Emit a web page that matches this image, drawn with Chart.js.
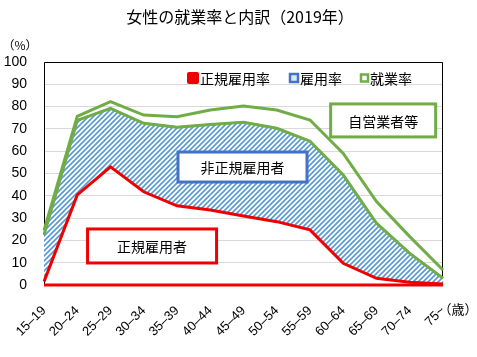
<!DOCTYPE html>
<html><head><meta charset="utf-8">
<script src="https://cdn.jsdelivr.net/npm/chart.js@4"></script>
<style>html,body{margin:0;padding:0;background:#fff}#wrap{width:477px;height:357px}</style>
</head><body><div id="wrap"><canvas id="c" width="477" height="357"></canvas></div>
<script>
const categories = ['15–19','20–24','25–29','30–34','35–39','40–44','45–49','50–54','55–59','60–64','65–69','70–74','75~'];
const regularRate = [1.5, 40.4, 53.0, 41.8, 35.5, 33.6, 30.9, 28.4, 24.7, 9.7, 3.0, 1.2, 0.5];
const employeeRate = [22.5, 73.8, 79.2, 72.5, 70.7, 72.0, 73.0, 70.3, 64.5, 49.3, 27.7, 14.2, 3.0];
const employmentRate = [24.5, 75.6, 82.2, 76.2, 75.5, 78.5, 80.3, 78.5, 74.0, 59.0, 37.4, 21.7, 6.7];
const yTicks = [0,10,20,30,40,50,60,70,80,90,100];
const seriesNames = ['正規雇用率','雇用率','就業率'];
const boxLabels = ['正規雇用者','非正規雇用者','自営業者等'];

const RED='#ee0000', BLUE='#4472c4', STRIPE='#5b9bd5', GREEN='#70ad47';
const JP = '"Noto Sans CJK JP", "Noto Sans", sans-serif';
const LAT = '"Liberation Sans", Arial, sans-serif';

function hatch(){
  const s=5, c=document.createElement('canvas'); c.width=s; c.height=s;
  const g=c.getContext('2d');
  g.fillStyle='#fff'; g.fillRect(0,0,s,s);
  g.strokeStyle=STRIPE; g.lineWidth=1.7; g.beginPath();
  g.moveTo(0,s); g.lineTo(s,0);
  g.moveTo(-1,1); g.lineTo(1,-1);
  g.moveTo(s-1,s+1); g.lineTo(s+1,s-1);
  g.stroke();
  return g.createPattern(c,'repeat');
}

const deco = {
  id:'deco',
  beforeDatasetsDraw(chart){
    const {ctx, chartArea:a} = chart;
    ctx.save(); ctx.strokeStyle='#000'; ctx.lineWidth=1;
    ctx.beginPath(); ctx.moveTo(a.left+0.5,a.bottom); ctx.lineTo(a.left+0.5,a.top+0.5); ctx.lineTo(a.right-0.5,a.top+0.5); ctx.lineTo(a.right-0.5,a.bottom); ctx.stroke();
    ctx.restore();
  },
  afterDatasetsDraw(chart){
    const {ctx, chartArea:a, scales:{x,y}} = chart;
    ctx.save();
    ctx.strokeStyle=RED; ctx.lineWidth=3;
    ctx.beginPath(); ctx.moveTo(a.left, y.getPixelForValue(0)); ctx.lineTo(a.right, y.getPixelForValue(0)); ctx.stroke();
    const boxes = [
      {t:boxLabels[0], cx:x.getPixelForValue(3.25), cy:y.getPixelForValue(17.5), w:129, h:34, c:RED},
      {t:boxLabels[1], cx:x.getPixelForValue(5.97), cy:y.getPixelForValue(52.9), w:129, h:30, c:BLUE},
      {t:boxLabels[2], cx:x.getPixelForValue(10.2), cy:y.getPixelForValue(73.8), w:105, h:33, c:GREEN}
    ];
    boxes.forEach(b=>{
      ctx.fillStyle='#fff'; ctx.fillRect(b.cx-b.w/2, b.cy-b.h/2, b.w, b.h);
      ctx.strokeStyle=b.c; ctx.lineWidth=3; ctx.strokeRect(b.cx-b.w/2, b.cy-b.h/2, b.w, b.h);
      ctx.fillStyle='#000'; ctx.font='14px '+JP; ctx.textAlign='center'; ctx.textBaseline='middle';
      ctx.fillText(b.t, b.cx, b.cy+1);
    });
    const ly = a.top + 16;
    const items = [
      {t:seriesNames[0], x:a.left+143, w:12, fill:RED, stroke:null},
      {t:seriesNames[1], x:a.left+245, w:10, fill:'#dbe6f7', stroke:BLUE},
      {t:seriesNames[2], x:a.left+316, w:9, fill:'#ffffff', stroke:GREEN}
    ];
    items.forEach(it=>{
      if(it.stroke){
        ctx.fillStyle=it.fill; ctx.fillRect(it.x, ly-it.w/2, it.w, it.w);
        ctx.strokeStyle=it.stroke; ctx.lineWidth=2.5; ctx.strokeRect(it.x+1, ly-it.w/2+1, it.w-2, it.w-2);
      } else {
        ctx.fillStyle=it.fill; ctx.beginPath(); ctx.roundRect(it.x, ly-it.w/2, it.w, it.w, 2); ctx.fill();
      }
      ctx.fillStyle='#000'; ctx.font='14px '+JP; ctx.textAlign='left'; ctx.textBaseline='middle';
      ctx.fillText(it.t, it.x+it.w+1, ly+1);
    });
    ctx.restore();
  },
  afterDraw(chart){
    const {ctx} = chart;
    ctx.save(); ctx.fillStyle='#000'; ctx.textBaseline='middle';
    ctx.font='16px '+JP; ctx.textAlign='center';
    ctx.fillText('女性の就業率と内訳（2019年）', 240, 17);
    ctx.font='12px '+JP; ctx.textAlign='center';
    ctx.fillText('（%）', 20, 45);
    ctx.font='13px '+JP; ctx.textAlign='center';
    ctx.fillText('（歳）', 458, 309);
    ctx.restore();
  }
};

new Chart(document.getElementById('c'), {
  type:'line',
  data:{
    labels: categories,
    datasets:[
      {label:seriesNames[0], data:regularRate, borderColor:RED, borderWidth:3, fill:false, order:0},
      {label:seriesNames[1], data:employeeRate, borderColor:BLUE, borderWidth:2, backgroundColor:hatch(), fill:'-1', order:2},
      {label:seriesNames[2], data:employmentRate, borderColor:GREEN, borderWidth:3, fill:false, order:3},
      {label:'_edge', data:employeeRate, borderColor:GREEN, borderWidth:3, fill:false, order:1}
    ]
  },
  options:{
    responsive:false, animation:false, devicePixelRatio:1,
    layout:{padding:{left:0,right:34,top:62,bottom:0}},
    elements:{line:{tension:0, borderJoinStyle:'miter'}, point:{radius:0}},
    plugins:{ title:{display:false}, tooltip:{enabled:false}, legend:{display:false} },
    scales:{
      x:{
        offset:false,
        grid:{display:false, drawTicks:false}, border:{display:false},
        ticks:{color:'#000', font:{size:13, family:LAT}, maxRotation:45, minRotation:45, padding:18, autoSkip:false},
        afterFit(s){ s.height = 72; }
      },
      y:{
        min:0, max:100,
        afterBuildTicks(s){ s.ticks = yTicks.map(v=>({value:v})); },
        grid:{color:'#d9d9d9', drawTicks:false}, border:{display:false},
        ticks:{color:'#000', font:{size:14, family:LAT}, padding:17},
        afterFit(s){ s.width = 44; }
      }
    }
  },
  plugins:[deco]
});
</script></body></html>
